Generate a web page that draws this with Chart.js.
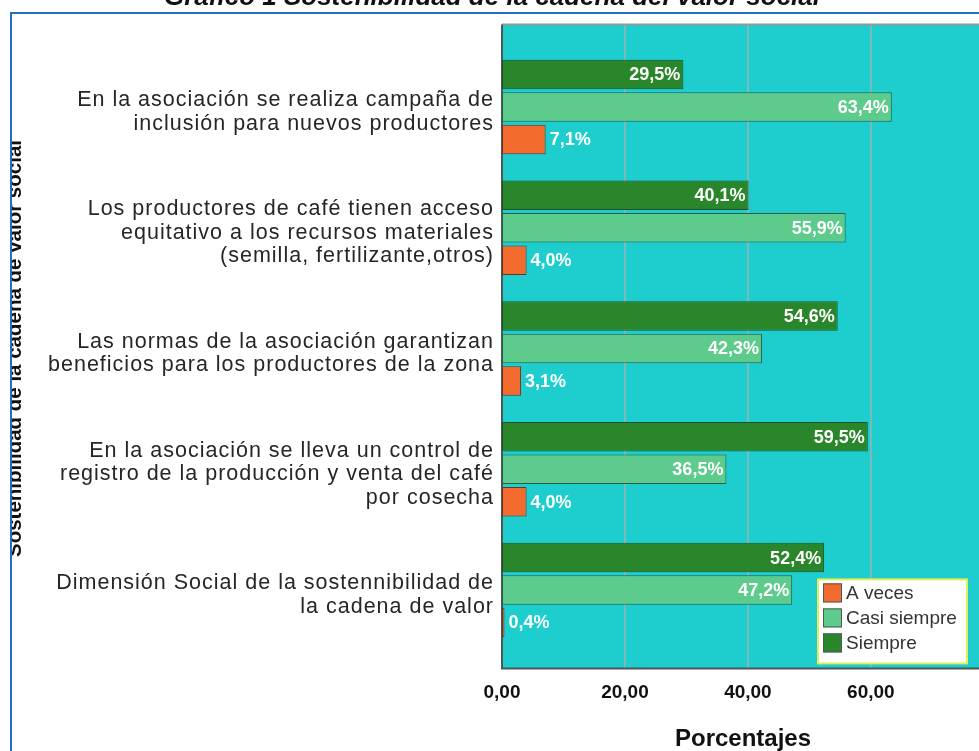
<!DOCTYPE html>
<html lang="es">
<head>
<meta charset="utf-8">
<title>Gráfico 1 Sostenibilidad de la cadena del valor social</title>
<script src="https://cdn.jsdelivr.net/npm/chart.js@4.4.1/dist/chart.umd.min.js"></script>
<style>
  html, body { margin: 0; padding: 0; background: #fff; overflow: hidden; }
  .chart-box { position: absolute; left: 0; top: -14px; width: 990px; height: 780px; }
</style>
</head>
<body>
<div class="chart-box"><canvas id="graficoSocial"></canvas></div>
<script>
// Datos del gráfico
const categorias = [
  ["En la asociación se realiza campaña de", "inclusión para nuevos productores"],
  ["Los productores de café tienen acceso", "equitativo a los recursos materiales", "(semilla, fertilizante,otros)"],
  ["Las normas de la asociación garantizan", "beneficios para los productores de la zona"],
  ["En la asociación se lleva un control de", "registro de la producción y venta del café", "por cosecha"],
  ["Dimensión Social de la sostennibilidad de", "la cadena de valor"]
];
const siempre = [29.5, 40.1, 54.6, 59.5, 52.4];
const casiSiempre = [63.4, 55.9, 42.3, 36.5, 47.2];
const aVeces = [7.1, 4.0, 3.1, 4.0, 0.4];
const ticksX = [0, 20, 40, 60, 80];

const FUENTE = "'Liberation Sans', Arial, sans-serif";
const EXTRA_TOP = 22;
const EXTRA_BOTTOM = 18;
const MARCO_X = 11;
const MARCO_Y = 27;

Chart.defaults.font.family = FUENTE;

function formatoTick(v) {
  return v.toFixed(2).replace(".", ",");
}

function formatoPct(v) {
  return v.toFixed(1).replace(".", ",") + "%";
}

// Fondo del area de trazado, rejilla y marco azul
const fondoPlot = {
  id: "fondoPlot",
  beforeDraw(chart) {
    const { ctx, chartArea: a, scales: { x } } = chart;
    const top = a.top - EXTRA_TOP;
    const bottom = a.bottom + EXTRA_BOTTOM;
    ctx.save();
    ctx.strokeStyle = "#1f6fc6";
    ctx.lineWidth = 2;
    ctx.strokeRect(MARCO_X, MARCO_Y, chart.width + 40, chart.height + 40);

    ctx.fillStyle = "#1ecdcd";
    ctx.fillRect(a.left, top, chart.width - a.left, bottom - top);

    ctx.strokeStyle = "#9ab4b4";
    ctx.lineWidth = 1.5;
    ticksX.forEach((v) => {
      if (v === 0) return;
      const px = x.getPixelForValue(v);
      ctx.beginPath();
      ctx.moveTo(px, top);
      ctx.lineTo(px, bottom);
      ctx.stroke();
    });

    ctx.strokeStyle = "#8c9c9c";
    ctx.lineWidth = 2;
    ctx.beginPath();
    ctx.moveTo(a.left, top);
    ctx.lineTo(chart.width, top);
    ctx.stroke();

    ctx.strokeStyle = "#4d5656";
    ctx.beginPath();
    ctx.moveTo(chart.width, bottom);
    ctx.lineTo(a.left, bottom);
    ctx.lineTo(a.left, top);
    ctx.stroke();
    ctx.restore();

    // etiquetas de categoria con espaciado entre letras
    const y = chart.scales.y;
    if (!y._espaciado) {
      const dibujar = y.drawLabels;
      y.drawLabels = function (area) {
        this.ctx.save();
        this.ctx.letterSpacing = "1px";
        this.ctx.translate(0, 5);
        dibujar.call(this, area);
        this.ctx.restore();
      };
      y._espaciado = true;
    }
  }
};

// Etiquetas de porcentaje sobre las barras
const etiquetas = {
  id: "etiquetas",
  afterDatasetsDraw(chart) {
    const { ctx } = chart;
    ctx.save();
    ctx.font = "bold 18px " + FUENTE;
    ctx.fillStyle = "#ffffff";
    ctx.textBaseline = "middle";
    chart.data.datasets.forEach((ds, i) => {
      const meta = chart.getDatasetMeta(i);
      meta.data.forEach((bar, j) => {
        const txt = formatoPct(ds.data[j]);
        if (ds.label === "A veces") {
          ctx.textAlign = "left";
          ctx.fillText(txt, bar.x + 4, bar.y + 1);
        } else {
          ctx.textAlign = "right";
          ctx.fillText(txt, bar.x - 3, bar.y + 1);
        }
      });
    });
    ctx.restore();
  }
};

// Leyenda dentro del area de trazado y borde izquierdo del marco
const leyenda = {
  id: "leyenda",
  afterDraw(chart) {
    const { ctx, chartArea: a } = chart;
    const bx = a.left + 316;
    const by = a.bottom + EXTRA_BOTTOM - 89;
    ctx.save();
    ctx.fillStyle = "#ffffff";
    ctx.fillRect(bx, by, 149, 84);
    ctx.strokeStyle = "#e4ee5a";
    ctx.lineWidth = 2;
    ctx.strokeRect(bx, by, 149, 84);
    const items = chart.data.datasets.slice().reverse();
    ctx.font = "19px " + FUENTE;
    ctx.textAlign = "left";
    ctx.textBaseline = "middle";
    items.forEach((ds, i) => {
      const sy = by + 4 + i * 25;
      ctx.fillStyle = ds.backgroundColor;
      ctx.fillRect(bx + 5, sy, 19, 19);
      ctx.strokeStyle = "#555";
      ctx.lineWidth = 1;
      ctx.strokeRect(bx + 5.5, sy + 0.5, 18, 18);
      ctx.fillStyle = "#333";
      ctx.fillText(ds.label, bx + 28, sy + 10);
    });

    // el titulo del eje queda recortado por el marco
    ctx.fillStyle = "#ffffff";
    ctx.fillRect(0, MARCO_Y - 1, MARCO_X - 1, chart.height);
    ctx.strokeStyle = "#1f6fc6";
    ctx.lineWidth = 2;
    ctx.beginPath();
    ctx.moveTo(MARCO_X, MARCO_Y - 1);
    ctx.lineTo(MARCO_X, chart.height);
    ctx.stroke();
    ctx.restore();
  }
};

new Chart(document.getElementById("graficoSocial"), {
  type: "bar",
  data: {
    labels: categorias,
    datasets: [
      {
        label: "Siempre",
        data: siempre,
        backgroundColor: "#2a862a",
        borderColor: "#1d4f2a",
        borderWidth: 1,
        borderSkipped: false,
      },
      {
        label: "Casi siempre",
        data: casiSiempre,
        backgroundColor: "#5ccb8b",
        borderColor: "#2b5c48",
        borderWidth: 1,
        borderSkipped: false,
      },
      {
        label: "A veces",
        data: aVeces,
        backgroundColor: "#f36a2e",
        borderColor: "#6e3320",
        borderWidth: 1,
        borderSkipped: false,
      },
    ],
  },
  options: {
    indexAxis: "y",
    responsive: true,
    maintainAspectRatio: false,
    animation: false,
    categoryPercentage: 0.807,
    barPercentage: 0.91,
    layout: {
      padding: { top: 0, right: 6, bottom: 12.6, left: 0 },
    },
    plugins: {
      legend: { display: false },
      tooltip: { enabled: false },
      title: {
        display: true,
        text: "Gráfico 1 Sostenibilidad de la cadena del valor social",
        color: "#111",
        font: { size: 26, weight: "bold", style: "italic", lineHeight: 0.92 },
        padding: { top: 0, bottom: 36.7 },
      },
    },
    scales: {
      x: {
        min: 0,
        max: 78.4,
        grid: { display: false, drawTicks: true, tickLength: 28 },
        border: { display: false },
        afterBuildTicks: (scale) => {
          scale.ticks = ticksX.filter((v) => v <= scale.max).map((v) => ({ value: v }));
        },
        ticks: {
          color: "#111",
          padding: 3,
          font: { size: 19, weight: "bold" },
          callback: (v) => formatoTick(v),
        },
        title: {
          display: true,
          text: "Porcentajes",
          color: "#111",
          font: { size: 24, weight: "bold" },
          padding: { top: 17.4, bottom: 0 },
        },
      },
      y: {
        offset: true,
        grid: { display: false, drawTicks: false },
        border: { display: false },
        afterFit: (scale) => {
          scale.width = 502;
        },
        ticks: {
          color: "#262626",
          padding: 8,
          autoSkip: false,
          font: { size: 21.5, lineHeight: 1.1 },
        },
        title: {
          display: true,
          text: "Sostenibilidad de la cadena de valor social",
          color: "#111",
          font: { size: 20.5, weight: "bold" },
          padding: { top: 3.3, bottom: 0 },
        },
      },
    },
  },
  plugins: [fondoPlot, etiquetas, leyenda],
});
</script>
</body>
</html>
